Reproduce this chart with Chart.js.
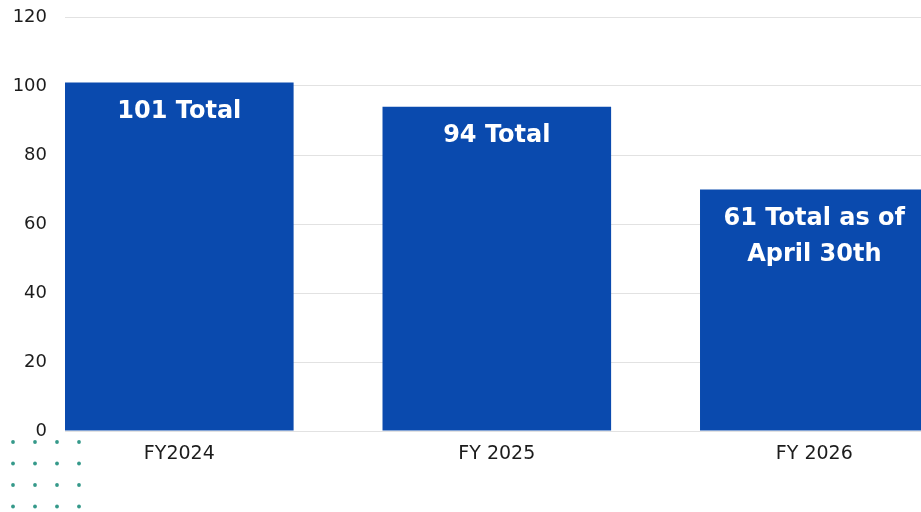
<!DOCTYPE html>
<html>
<head>
<meta charset="utf-8">
<script src="https://cdn.jsdelivr.net/npm/chart.js@4"></script>
<style>
  html, body { margin: 0; padding: 0; background: #fff; overflow: hidden; }
  #wrap { width: 921px; height: 512px; position: relative; }
</style>
</head>
<body>
<div id="wrap"><canvas id="fyChart"></canvas></div>
<script>
// valeurs
const categories = ["FY2024", "FY 2025", "FY 2026"];
const totals = [101, 94, 70];
const barLabels = [["101 Total"], ["94 Total"], ["61 Total as of", "April 30th"]];
const yTicks = [0, 20, 40, 60, 80, 100, 120];

const barBlue = "#0a4aae";

// texte blanc dans chaque barre
const insideLabels = {
  id: "insideLabels",
  afterDatasetsDraw(chart) {
    const ctx = chart.ctx;
    const meta = chart.getDatasetMeta(0);
    ctx.save();
    ctx.fillStyle = "#ffffff";
    ctx.font = "bold 24px 'DejaVu Sans', sans-serif";
    ctx.textAlign = "center";
    ctx.textBaseline = "middle";
    meta.data.forEach(function (bar, i) {
      const lines = barLabels[i];
      lines.forEach(function (line, j) {
        ctx.fillText(line, bar.x, bar.y + 29 + j * 36);
      });
    });
    ctx.restore();
  }
};

// petits points décoratifs en bas à gauche
const dotGrid = {
  id: "dotGrid",
  afterDraw(chart) {
    const ctx = chart.ctx;
    ctx.save();
    ctx.fillStyle = "#35998a";
    for (let r = 0; r < 4; r++) {
      for (let c = 0; c < 4; c++) {
        ctx.beginPath();
        ctx.arc(13 + c * 22, 442 + r * 21.5, 1.9, 0, Math.PI * 2);
        ctx.fill();
      }
    }
    ctx.restore();
  }
};

document.addEventListener("DOMContentLoaded", function () {
  const ctx = document.getElementById("fyChart").getContext("2d");
  new Chart(ctx, {
    type: "bar",
    data: {
      datasets: [
        {
          label: "Total",
          data: totals.map(function (v, i) { return { x: i, y: v }; }),
          backgroundColor: barBlue,
          borderWidth: 0,
          categoryPercentage: 0.72,
          barPercentage: 1,
        },
      ],
    },
    options: {
      responsive: true,
      maintainAspectRatio: false,
      animation: false,
      layout: { padding: { top: 17, right: 0, bottom: 0, left: 0 } },
      plugins: {
        legend: { display: false },
        tooltip: { enabled: false },
      },
      scales: {
        x: {
          type: "linear",
          min: -0.36,
          max: 2.336,
          offset: false,
          grid: { display: false },
          border: { display: false },
          ticks: {
            stepSize: 1,
            includeBounds: false,
            autoSkip: false,
            maxRotation: 0,
            padding: 4,
            color: "#1c1c1c",
            font: { family: "'DejaVu Sans', sans-serif", size: 19 },
            callback: function (v) {
              return Number.isInteger(v) && categories[v] ? categories[v] : "";
            },
          },
          afterFit: function (scale) { scale.height = 81; },
        },
        y: {
          min: 0,
          max: 120,
          afterBuildTicks: function (scale) {
            scale.ticks = yTicks.map(function (v) { return { value: v }; });
          },
          grid: { color: "#e2e2e2", lineWidth: 1, drawTicks: false },
          border: { display: false },
          ticks: {
            padding: 18,
            color: "#1c1c1c",
            font: { family: "'DejaVu Sans', sans-serif", size: 18 },
          },
          afterFit: function (scale) {
            scale.width = 65;
            scale.paddingTop = 0;
            scale.paddingBottom = 0;
          },
        },
      },
    },
    plugins: [insideLabels, dotGrid],
  });
});
</script>
</body>
</html>
